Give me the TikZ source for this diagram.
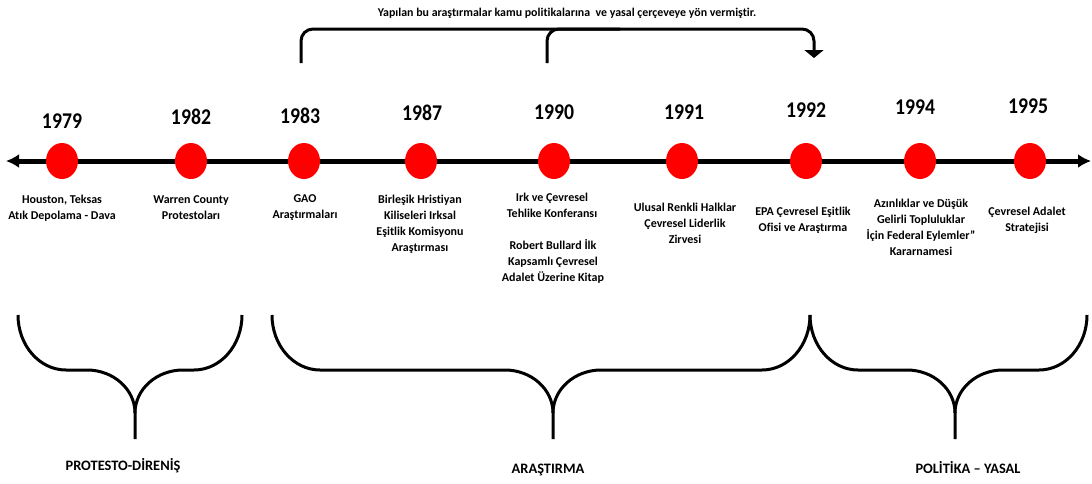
\documentclass[tikz,border=0pt]{standalone}
\usepackage{fontspec}
\setmainfont{Carlito}[Ligatures={NoCommon}]
\newfontfamily\yearfont{Carlito Bold}[FakeStretch=0.877,Ligatures={NoCommon}]
\usetikzlibrary{arrows.meta,shapes.geometric}
\tikzset{
  dot/.style={ellipse,fill=red,draw=none,minimum width=32pt,minimum height=36pt,inner sep=0pt},
  year/.style={font=\yearfont\fontsize{22.5}{26}\selectfont,inner sep=0pt},
  desc/.style={font=\bfseries\fontsize{12}{16}\selectfont,align=center,inner sep=0pt},
  phase/.style={font=\bfseries\fontsize{14.4}{17}\selectfont,inner sep=0pt},
  bracestyle/.style={line width=3pt,line join=round},
  topline/.style={line width=3pt,rounded corners=12pt}
}
\newcommand\mybrace[3]{%
  \draw[bracestyle] (#1,315) .. controls +(0,30.4) and +(-26.5,0) .. ({#1+48},370) -- ({#2-48},370) .. controls +(26.5,0) and +(0,-23.7) .. (#2,413) -- (#2,439);
  \draw[bracestyle] (#2,413) .. controls +(0,-23.7) and +(-26.5,0) .. ({#2+48},370) -- ({#3-48},370) .. controls +(26.5,0) and +(0,30.4) .. (#3,315);
}
\begin{document}
\begin{tikzpicture}[x=1pt,y=-1pt]
\useasboundingbox (0,0) rectangle (1092,483);
% timeline
\coordinate (tl) at (6,161);
\coordinate (tr) at (1091,161);
\draw[line width=5pt,{Latex[length=13pt,width=14pt]}-{Latex[length=13pt,width=14pt]}] (tl) -- (tr);
% dots
\node[dot] (d1979) at (62,161) {};
\node[dot] (d1982) at (191,161) {};
\node[dot] (d1983) at (304,161) {};
\node[dot] (d1987) at (421,161) {};
\node[dot] (d1990) at (554,161) {};
\node[dot] (d1991) at (682,161) {};
\node[dot] (d1992) at (806,161) {};
\node[dot] (d1994) at (920,161) {};
\node[dot] (d1995) at (1030,161) {};
% years
\node[year] (y1979) at (62,121) {1979};
\node[year] (y1982) at (191,117) {1982};
\node[year] (y1983) at (300,116) {1983};
\node[year] (y1987) at (422,113) {1987};
\node[year] (y1990) at (554,112) {1990};
\node[year] (y1991) at (684,112) {1991};
\node[year] (y1992) at (806,110) {1992};
\node[year] (y1994) at (915,107) {1994};
\node[year] (y1995) at (1028,106) {1995};
% descriptions
\node[desc] (t1979) at (62,208) {Houston, Teksas\\Atık Depolama - Dava};
\node[desc] (t1982) at (191,208) {Warren County\\Protestoları};
\node[desc] (t1983) at (305,208) {GAO\\Araştırmaları};
\node[desc] (t1987) at (420,224) {Birleşik Hristiyan\\Kiliseleri Irksal\\Eşitlik Komisyonu\\Araştırması};
\node[desc] (t1990) at (552,205) {Irk ve Çevresel\\Tehlike Konferansı};
\node[desc] (t1990b) at (553,261) {Robert Bullard İlk\\Kapsamlı Çevresel\\Adalet Üzerine Kitap};
\node[desc] (t1991) at (685,223) {Ulusal Renkli Halklar\\Çevresel Liderlik\\Zirvesi};
\node[desc] (t1992) at (803,220) {EPA Çevresel Eşitlik\\Ofisi ve Araştırma};
\node[desc] (t1994) at (921,227) {Azınlıklar ve Düşük\\Gelirli Topluluklar\\İçin Federal Eylemler”\\Kararnamesi};
\node[desc] (t1995) at (1027,220) {Çevresel Adalet\\Stratejisi};
% top note and arrows
\node[font=\bfseries\fontsize{11.9}{14}\selectfont,inner sep=0pt] (note) at (567,13) {Yapılan bu araştırmalar kamu politikalarına\ \ ve yasal çerçeveye yön vermiştir.};
\coordinate (a1) at (301,63);
\coordinate (a2) at (547,63);
\coordinate (tip) at (814,58);
\draw[topline,-{Triangle[width=19pt,length=8pt]}] (a1) |- (tip |- 0,29) -- (tip);
\draw[topline] (a2) |- (620,29);
% braces
\mybrace{18}{135}{242}
\mybrace{272}{553}{810}
\mybrace{810}{955}{1087}
\node[phase] (p1) at (123,466) {PROTESTO-DİRENİŞ};
\node[phase] (p2) at (548,470) {ARAŞTIRMA};
\node[phase] (p3) at (968,468) {POLİTİKA – YASAL};
\end{tikzpicture}
\end{document}
